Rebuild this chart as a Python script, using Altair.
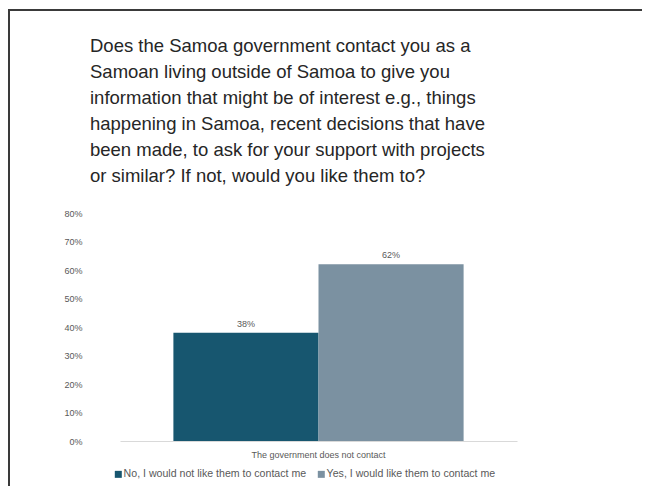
import altair as alt
import pandas as pd

categories = ["The government does not contact"]
series = ["No, I would not like them to contact me", "Yes, I would like them to contact me"]
values = [0.38, 0.62]
colors = ["#17566f", "#7b91a1"]
y_ticks = [0, 0.1, 0.2, 0.3, 0.4, 0.5, 0.6, 0.7, 0.8]
title_lines = [
    "Does the Samoa government contact you as a",
    "Samoan living outside of Samoa to give you",
    "information that might be of interest e.g., things",
    "happening in Samoa, recent decisions that have",
    "been made, to ask for your support with projects",
    "or similar? If not, would you like them to?",
]

df = pd.DataFrame({
    "category": categories * len(series),
    "series": series,
    "value": values,
})

W, H = 397, 228
PAD_L, PAD_T, PAD_R, PAD_B = 112, 205, 125, 45
FONT = "Liberation Sans"
GREY = "#595959"

y_enc = alt.Y(
    "value:Q",
    scale=alt.Scale(domain=[0, 0.8]),
    axis=alt.Axis(format="%", values=y_ticks, title=None, grid=False, ticks=False,
                  domain=False, labelPadding=38, labelFontSize=9, labelColor=GREY,
                  labelFont=FONT, labelOverlap=False),
)

base = alt.Chart(df).encode(
    x=alt.X(
        "category:N",
        scale=alt.Scale(paddingInner=0, paddingOuter=0.184),
        axis=alt.Axis(title=None, labelAngle=0, ticks=False, domainColor="#d9d9d9",
                      labelFontSize=9, labelColor=GREY, labelFont=FONT, labelPadding=9),
    ),
    xOffset=alt.XOffset("series:N", sort=series, scale=alt.Scale(paddingInner=0, paddingOuter=0)),
    y=y_enc,
)

bars = base.mark_bar().encode(
    color=alt.Color(
        "series:N",
        sort=series,
        scale=alt.Scale(domain=series, range=colors),
        legend=alt.Legend(title=None, orient="none", legendX=-7, legendY=256,
                          direction="horizontal",
                          symbolType="square", symbolSize=49, labelFontSize=10.6,
                          labelColor=GREY, labelFont=FONT, columnPadding=9, labelOffset=0,
                          labelLimit=400, symbolStrokeWidth=0),
    ),
)

labels = base.mark_text(dy=-9, fontSize=9, color=GREY, font=FONT).encode(
    text=alt.Text("value:Q", format=".0%"),
)

border_data = alt.Data(values=[{"k": 1}])
top_border = alt.Chart(border_data).mark_rule(color="#3a3a3a", strokeWidth=2).encode(
    x=alt.value(-PAD_L + 1), x2=alt.value(W + PAD_R), y=alt.value(-PAD_T + 2)
)
left_border = alt.Chart(border_data).mark_rule(color="#3a3a3a", strokeWidth=2).encode(
    x=alt.value(-PAD_L + 1), y=alt.value(-PAD_T + 1), y2=alt.value(H + PAD_B)
)

chart = alt.layer(bars, labels, top_border, left_border).properties(
    width=W,
    height=H,
    padding={"left": PAD_L, "top": PAD_T, "right": PAD_R, "bottom": PAD_B},
    autosize=alt.AutoSizeParams(type="none"),
    title=alt.Title(
        text=title_lines, anchor="start", frame="group", dx=-30, dy=203, offset=26,
        fontSize=18.5, lineHeight=26, font=FONT, fontWeight="normal", color="#262626",
    ),
).configure_view(stroke=None)

chart.save("out.html", embed_options={"renderer": "svg", "actions": False})
